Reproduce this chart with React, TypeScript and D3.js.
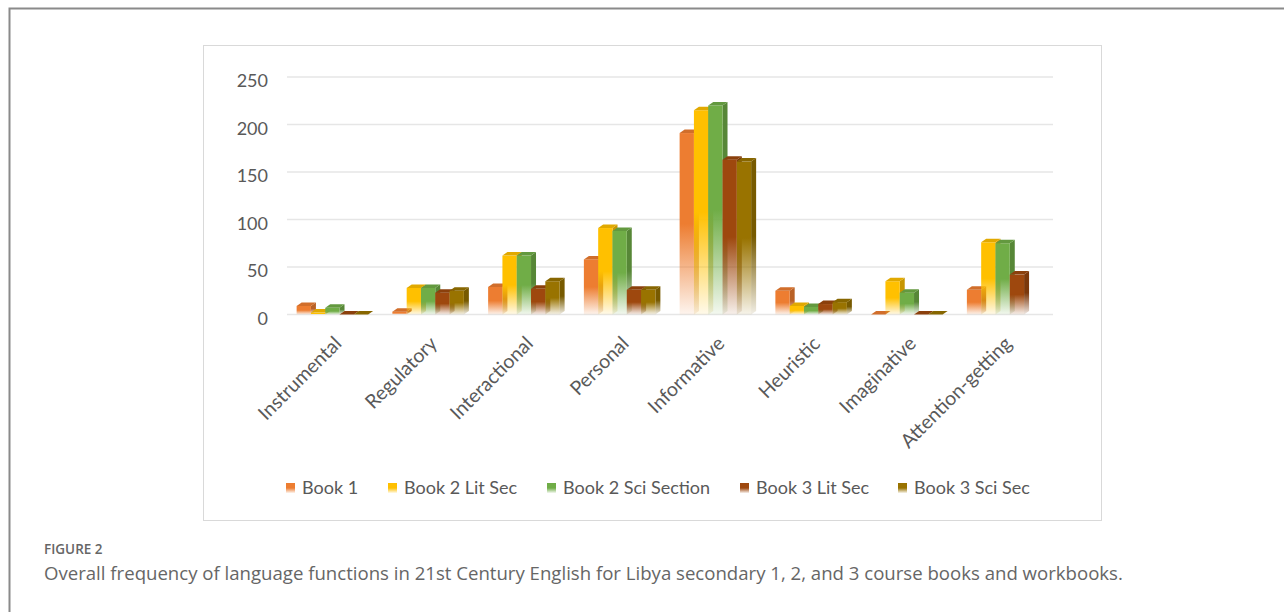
import React from 'react';
import * as d3 from 'd3';

// chart data
const categories = ['Instrumental', 'Regulatory', 'Interactional', 'Personal', 'Informative', 'Heuristic', 'Imaginative', 'Attention-getting'];
const seriesNames = ['Book 1', 'Book 2 Lit Sec', 'Book 2 Sci Section', 'Book 3 Lit Sec', 'Book 3 Sci Sec'];
const book1 = [9, 3, 29, 58, 191, 25, 0, 26];
const book2Lit = [2, 28, 62, 91, 215, 9, 35, 76];
const book2Sci = [7, 28, 62, 88, 220, 8, 23, 75];
const book3Lit = [0, 23, 27, 26, 163, 11, 0, 42];
const book3Sci = [0, 25, 35, 26, 161, 13, 0, null];
const yTicks = [0, 50, 100, 150, 200, 250];
const colors = ['#ED7D31', '#FFC000', '#70AD47', '#9E480E', '#997300'];

const caption = 'Overall frequency of language functions in 21st Century English for Libya secondary 1, 2, and 3 course books and workbooks.';

const W = 1284;
const H = 612;
const plot = { left: 287, right: 1053, top: 77, bottom: 314.5 };
const barW = 14.3;
const depthX = 5;
const depthY = 3.5;
const legendX = [286, 388, 547, 740, 898];
const textColor = '#595959';
const chartFont = 'Lato, "Open Sans", sans-serif';

const App: React.FC = () => {
  const series = [book1, book2Lit, book2Sci, book3Lit, book3Sci];

  const x = d3.scaleBand<string>()
    .domain(categories)
    .range([plot.left, plot.right])
    .padding(0);

  const y = d3.scaleLinear()
    .domain([0, 250])
    .range([plot.bottom, plot.top]);

  const groupW = seriesNames.length * barW + depthX;
  const y0 = y(0);

  const shade = (c: string, k: number) => d3.color(c)!.darker(k).formatHex();

  return (
    <div style={{ position: 'absolute', left: 0, top: 0 }}>
      <svg width={W} height={H} style={{ display: 'block', background: '#fff' }}>
        <defs>
          {colors.map((c, i) => (
            <React.Fragment key={i}>
              <linearGradient id={`front-${i}`} x1="0" y1="0" x2="0" y2="1">
                <stop offset="0" stopColor={c} stopOpacity={1} />
                <stop offset="0.5" stopColor={c} stopOpacity={1} />
                <stop offset="1" stopColor={c} stopOpacity={0.08} />
              </linearGradient>
              <linearGradient id={`side-${i}`} x1="0" y1="0" x2="0" y2="1">
                <stop offset="0" stopColor={shade(c, 0.7)} stopOpacity={1} />
                <stop offset="0.5" stopColor={shade(c, 0.7)} stopOpacity={1} />
                <stop offset="1" stopColor={shade(c, 0.7)} stopOpacity={0.1} />
              </linearGradient>
            </React.Fragment>
          ))}
        </defs>

        {/* outer figure frame */}
        <path d={`M9.5,${H} V8.5 H${W}`} fill="none" stroke="#8a8a8a" strokeWidth={2} />

        {/* chart area */}
        <rect x={203.5} y={45.5} width={898} height={475} fill="#fff" stroke="#d9d9d9" strokeWidth={1} />

        {/* grid */}
        {yTicks.map(t => (
          <g key={t}>
            <line x1={plot.left} x2={plot.right} y1={y(t)} y2={y(t)} stroke="#e6e6e6" strokeWidth={1.5} />
            <text x={268} y={y(t) + 4} dy="0.35em" textAnchor="end" fontFamily={chartFont} fontSize={18} fill={textColor}>
              {t}
            </text>
          </g>
        ))}

        {/* 3D bars */}
        {categories.map((cat, j) => {
          const start = x(cat)! + (x.bandwidth() - groupW) / 2;
          return (
            <g key={cat}>
              {series.map((vals, i) => {
                const v = vals[j];
                if (v === null || v === undefined) return null;
                const x0 = start + i * barW;
                const yt = y(v);
                const h = y0 - yt;
                return (
                  <g key={i}>
                    {h > 0 && (
                      <polygon
                        points={`${x0 + barW},${yt} ${x0 + barW + depthX},${yt - depthY} ${x0 + barW + depthX},${y0 - depthY} ${x0 + barW},${y0}`}
                        fill={`url(#side-${i})`}
                      />
                    )}
                    {h > 0 && (
                      <rect x={x0} y={yt} width={barW} height={h} fill={`url(#front-${i})`} />
                    )}
                    <polygon
                      points={`${x0},${yt} ${x0 + depthX},${yt - depthY} ${x0 + barW + depthX},${yt - depthY} ${x0 + barW},${yt}`}
                      fill={shade(colors[i], 0.35)}
                    />
                  </g>
                );
              })}
            </g>
          );
        })}

        {/* category labels */}
        {categories.map(cat => {
          const cx = x(cat)! + x.bandwidth() / 2;
          return (
            <text
              key={cat}
              transform={`translate(${cx + 3},${340}) rotate(-45)`}
              textAnchor="end"
              dy="0.35em"
              fontFamily={chartFont}
              fontSize={19.5}
              fill={textColor}
            >
              {cat}
            </text>
          );
        })}

        {/* legend */}
        {seriesNames.map((name, i) => (
          <g key={name} transform={`translate(${legendX[i]},488)`}>
            <rect x={0} y={-5} width={9} height={10} fill={`url(#front-${i})`} />
            <text x={16} dy="0.35em" fontFamily={chartFont} fontSize={18} fill={textColor}>
              {name}
            </text>
          </g>
        ))}

        {/* caption */}
        <text x={44} y={554} fontFamily='"Open Sans", sans-serif' fontSize={13.5} fontWeight={600} fill="#666">
          FIGURE 2
        </text>
        <text x={44} y={580} fontFamily='"Open Sans", sans-serif' fontSize={18.6} fill="#666">
          {caption}
        </text>
      </svg>
    </div>
  );
};

export default App;
